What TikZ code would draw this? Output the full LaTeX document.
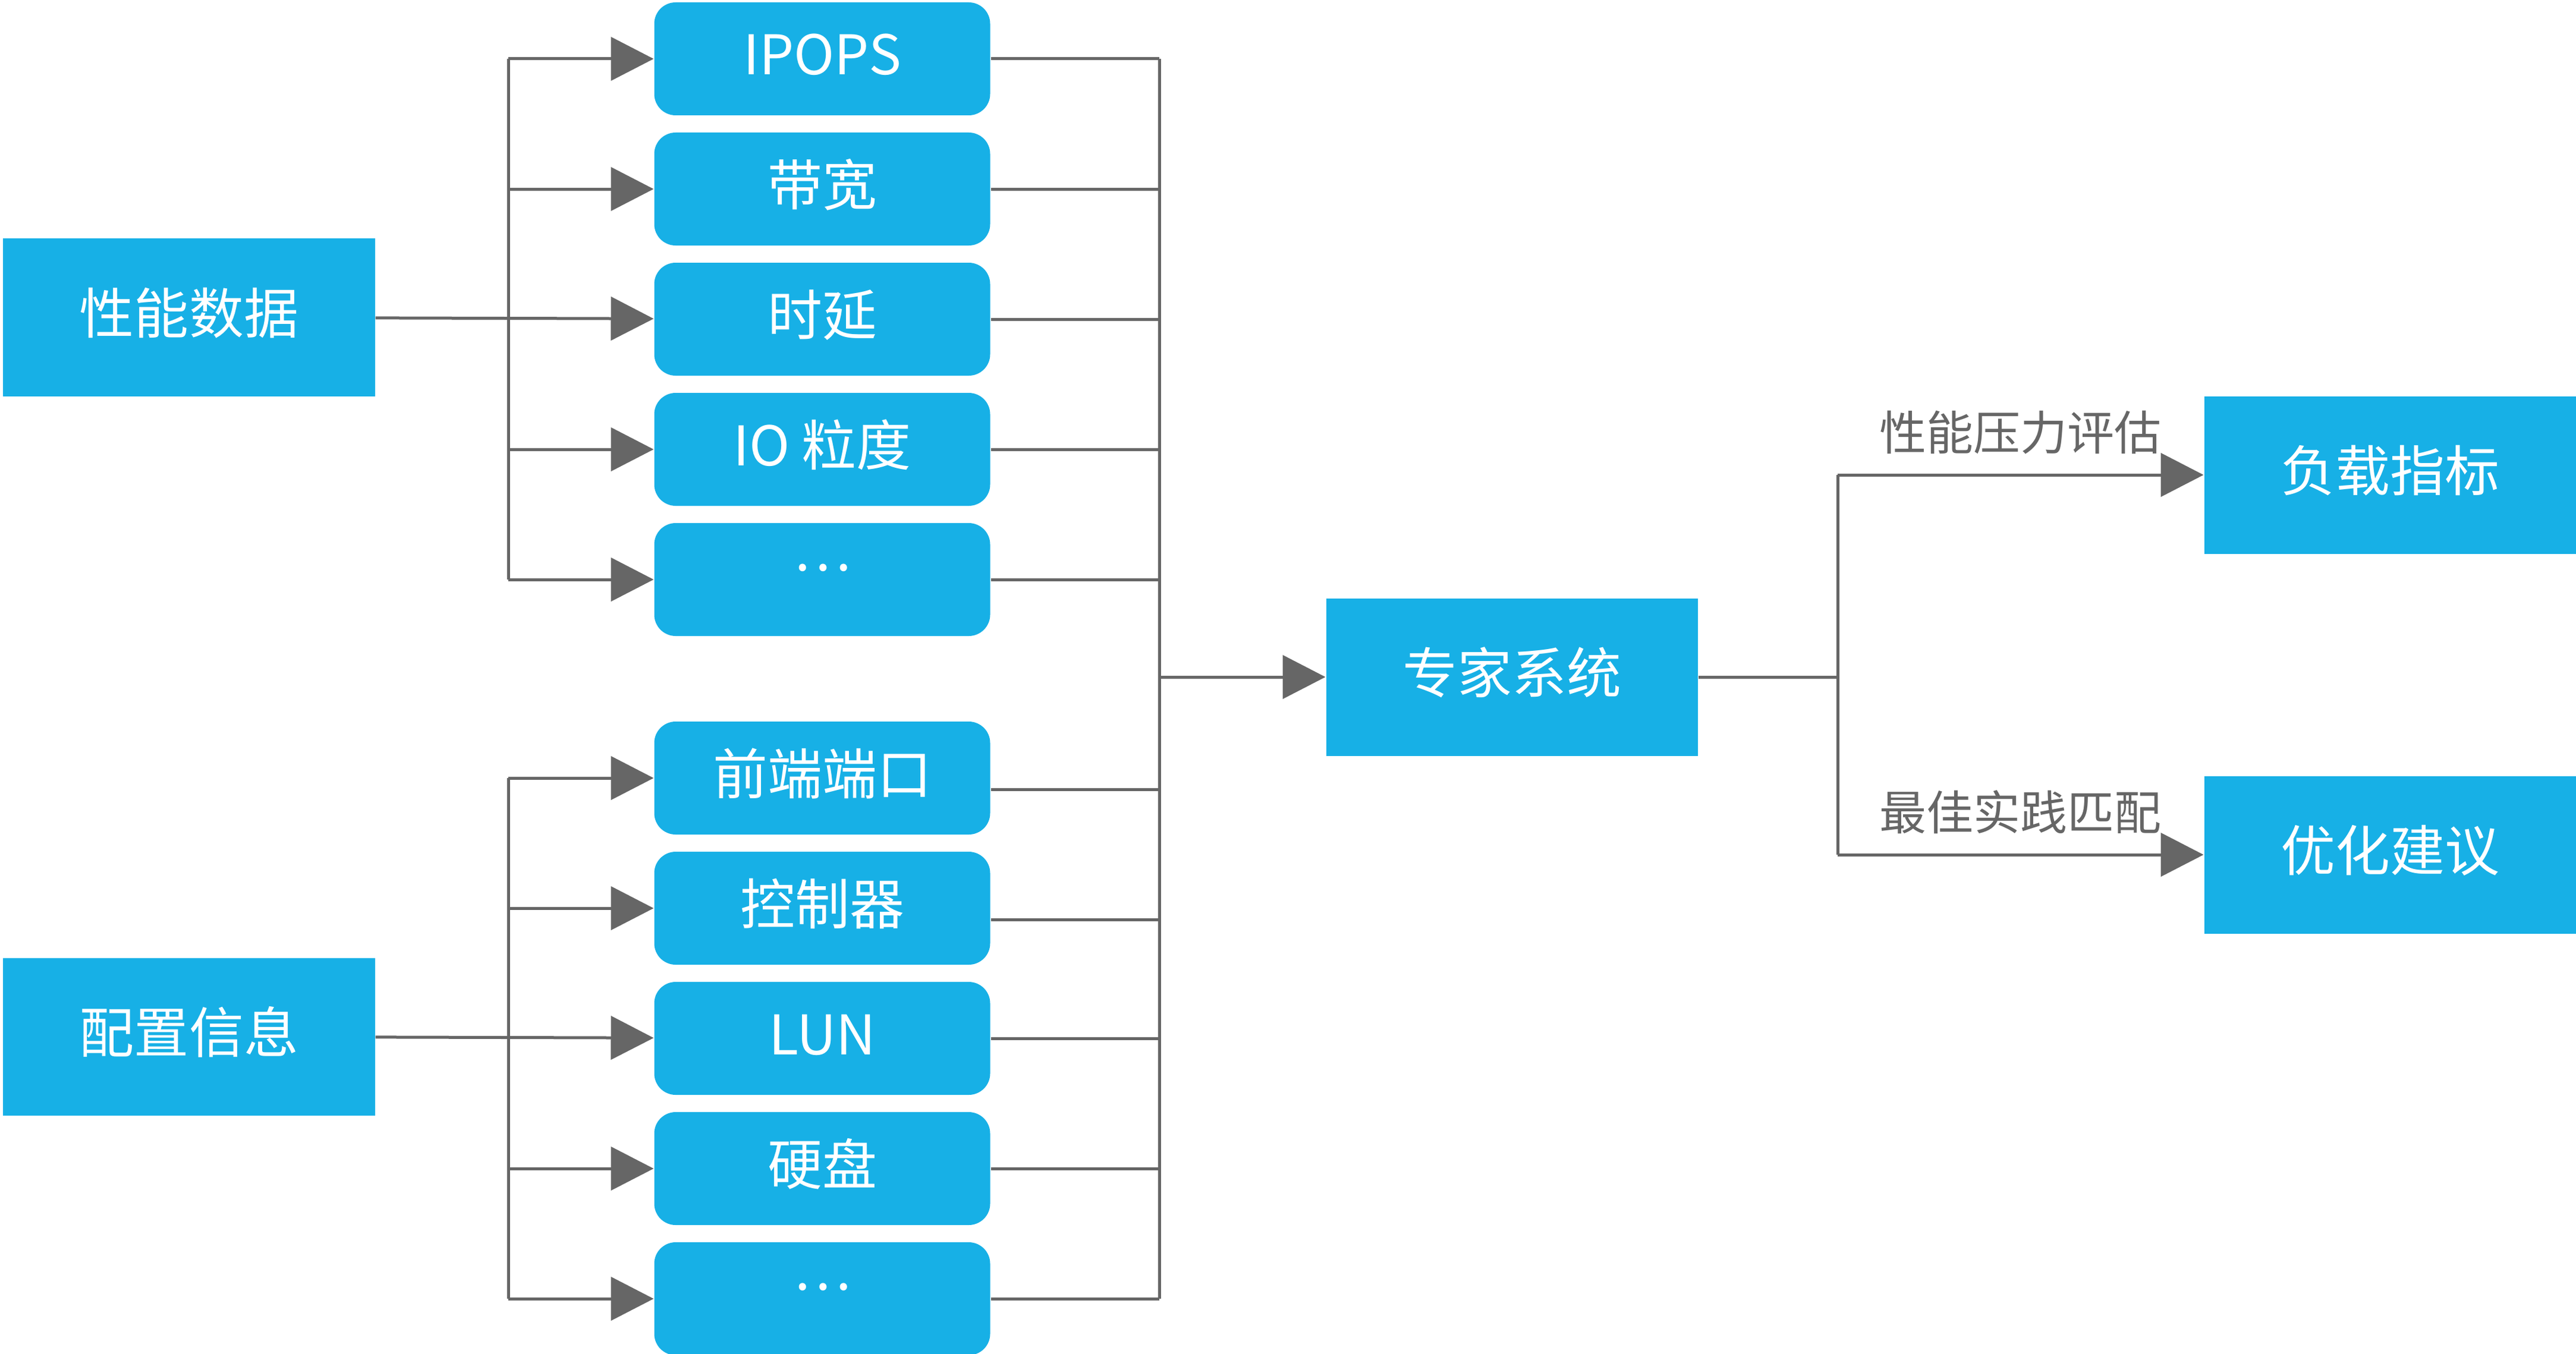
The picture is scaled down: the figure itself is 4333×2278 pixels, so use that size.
\documentclass[tikz,border=0pt]{standalone}
\usepackage{fontspec}
\setmainfont{Noto Sans CJK SC}
\usepackage{tikz}
\usetikzlibrary{positioning, arrows.meta}
\definecolor{colorBox}{HTML}{17B0E6}
\definecolor{colorLine}{HTML}{666666}
\tikzset{
    item/.style={fill=colorBox, rounded corners=7.2pt, minimum width=113pt, minimum height=38pt, inner sep=0pt, text=white, text height=14.6pt, text depth=3.8pt, font=\fontsize{18.4}{20}\selectfont},
    block/.style={fill=colorBox, minimum width=125pt, minimum height=53pt, inner sep=0pt, text=white, text height=14.6pt, text depth=3.8pt, font=\fontsize{18.4}{20}\selectfont},
    link/.style={colorLine, line width=1pt},
    flow/.style={link, -{Triangle[length=14.4pt, width=14.6pt]}},
    tag/.style={font=\fontsize{15.8}{18}\selectfont, inner sep=0pt, text height=13.9pt, text depth=1.9pt, above=6pt}
}

\begin{document}
\begin{tikzpicture}[x=0.2pt, y=-0.2pt]
    \useasboundingbox (0,0) rectangle (4333,2278);
    % sources
    \node[block] (perf) at (318,534) {性能数据};
    \node[block] (conf) at (318,1744) {配置信息};
    % performance items
    \node[item] (ipops) at (1383,99) {IPOPS};
    \node[item, below=5.4pt of ipops] (bw) {带宽};
    \node[item, below=5.4pt of bw] (lat) {时延};
    \node[item, below=5.4pt of lat] (io) {IO 粒度};
    \node[item, below=5.4pt of io] (more1) {\raisebox{8.4pt}{…}};
    % configuration items
    \node[item] (port) at (1383,1309) {前端端口};
    \node[item, below=5.4pt of port] (ctrl) {控制器};
    \node[item, below=5.4pt of ctrl] (lun) {LUN};
    \node[item, below=5.4pt of lun] (disk) {硬盘};
    \node[item, below=5.4pt of disk] (more2) {\raisebox{8.4pt}{…}};
    % expert system and results
    \node[block] (expert) at (2543,1139) {专家系统};
    \node[block] (load) at (4020,799) {负载指标};
    \node[block] (advice) at (4020,1438) {优化建议};

    \coordinate (fork1) at (855,534);
    \coordinate (fork2) at (855,1744);
    \coordinate (join) at (1950,1139);
    \coordinate (split) at (3091,1139);

    % fan out
    \draw[link] (ipops.west -| fork1) -- (more1.west -| fork1);
    \draw[link] (port.west -| fork2) -- (more2.west -| fork2);
    \draw[flow] (perf) -- (lat);
    \draw[flow] (conf) -- (lun);
    \foreach \n in {ipops, bw, io, more1, port, ctrl, disk, more2}
        \draw[flow] (\n.west -| fork1) -- (\n);

    % collect
    \foreach \n in {ipops, bw, lat, io, more1, lun, disk, more2}
        \draw[link] (\n.east) -- (\n.east -| join);
    \draw[link] ([yshift=-3.8pt]port.east) -- ([yshift=-3.8pt]port.east -| join);
    \draw[link] ([yshift=-3.8pt]ctrl.east) -- ([yshift=-3.8pt]ctrl.east -| join);
    \draw[link] (ipops.east -| join) -- (more2.east -| join);
    \draw[flow] (join) -- (expert);

    % results
    \draw[link] (expert) -- (split);
    \draw[link] (split |- load) -- (split |- advice);
    \draw[flow] (split |- load) -- node[tag] {性能压力评估} (load);
    \draw[flow] (split |- advice) -- node[tag] {最佳实践匹配} (advice);
\end{tikzpicture}
\end{document}
